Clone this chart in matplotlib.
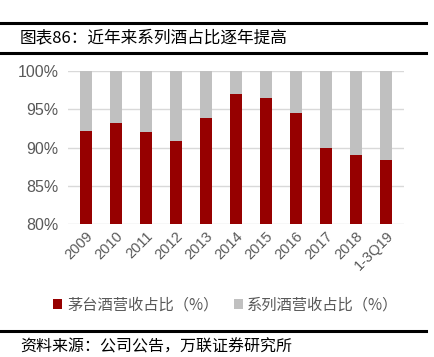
import numpy as np
import matplotlib.pyplot as plt
from matplotlib.lines import Line2D
from matplotlib.ticker import FuncFormatter

plt.rcParams['font.family'] = ['Noto Sans CJK SC', 'DejaVu Sans']

years = ['2009', '2010', '2011', '2012', '2013', '2014', '2015', '2016',
         '2017', '2018', '1-3Q19']
maotai = [92.2, 93.2, 92.0, 90.8, 93.9, 97.0, 96.5, 94.5, 90.0, 89.0, 88.4]
series = [100 - v for v in maotai]

red = '#960000'
grey = '#c0c0c0'

fig = plt.figure(figsize=(4.34, 3.57), dpi=100)
ax = fig.add_axes([68 / 434, 1 - 224 / 357, 336 / 434, 153 / 357])

x = np.arange(len(years))
ax.bar(x, maotai, width=0.4, color=red, label='茅台酒营收占比（%）', zorder=3)
ax.bar(x, series, width=0.4, bottom=maotai, color=grey,
       label='系列酒营收占比（%）', zorder=3)

ax.set_ylim(80, 100)
ax.set_xlim(-0.6, len(years) - 0.4)
ax.set_yticks([80, 85, 90, 95, 100])
ax.yaxis.set_major_formatter(FuncFormatter(lambda v, p: f'{v:.0f}%'))
ax.grid(axis='y', color='#d9d9d9', linewidth=1, zorder=0)
for s in ax.spines.values():
    s.set_visible(False)
ax.tick_params(axis='both', length=0, colors='#595959')
ax.tick_params(axis='y', pad=7)
for lab in ax.get_yticklabels():
    lab.set_fontfamily('Liberation Sans')
    lab.set_fontsize(11.5)
ax.set_xticks(x)
ax.set_xticklabels(years, rotation=45, ha='right', rotation_mode='anchor',
                   fontsize=10.5, family=['Liberation Sans'])

ax.legend(loc='center', bbox_to_anchor=(0.47, -0.53), ncol=2, frameon=False,
          fontsize=11, handlelength=0.6, handleheight=0.6, handletextpad=0.3,
          columnspacing=1.0, labelcolor='#595959')

# frame lines and header/footer text
for yy, lw in [(23, 2.2), (53, 2.2), (331, 2.2)]:
    fig.add_artist(Line2D([0, 426 / 434], [1 - yy / 357] * 2, color='black',
                          linewidth=lw, transform=fig.transFigure))
fig.text(20 / 434, 1 - 38 / 357, '图表86：近年来系列酒占比逐年提高', fontsize=12,
         va='center', ha='left')
fig.text(20 / 434, 1 - 347 / 357, '资料来源：公司公告，万联证券研究所', fontsize=11.5,
         va='center', ha='left', style='italic')

fig.savefig('out.png', dpi=100)
